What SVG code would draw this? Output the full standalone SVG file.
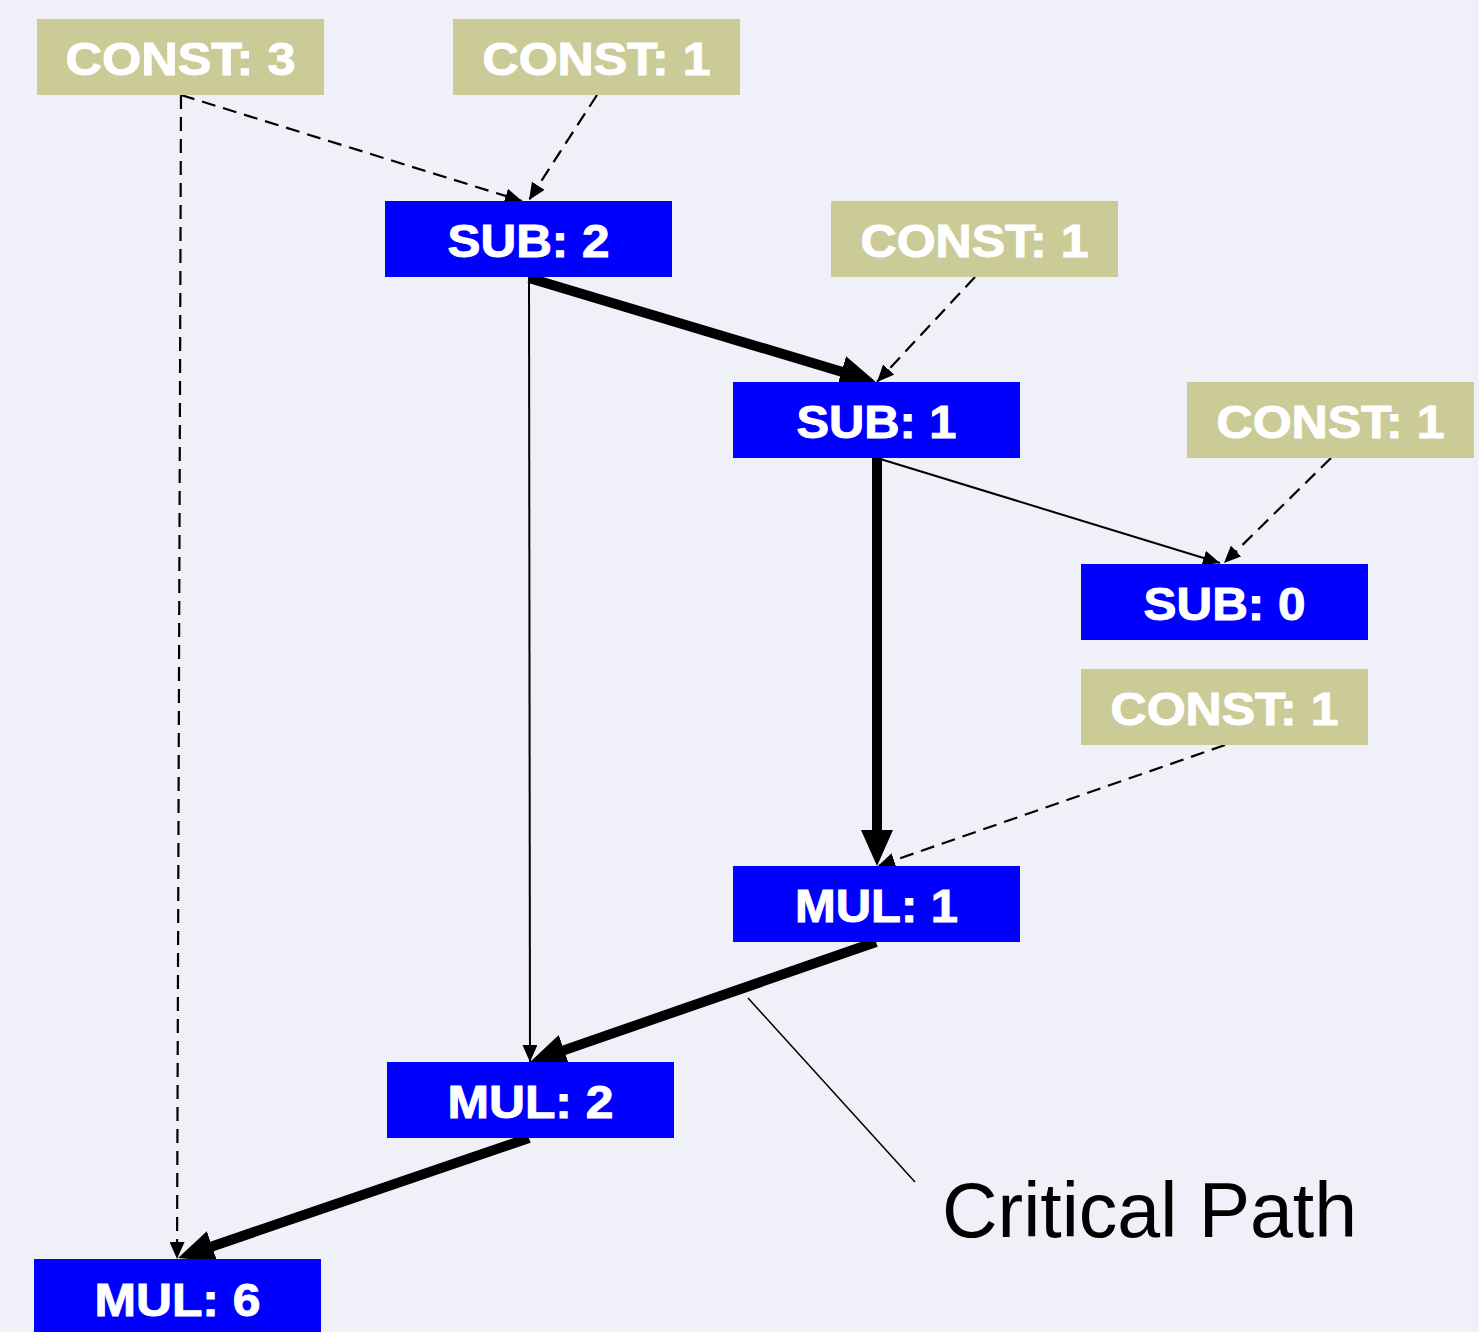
<svg xmlns="http://www.w3.org/2000/svg" width="1479" height="1332" viewBox="0 0 1479 1332">
<style>
.const{fill:#CBCB98}
.op{fill:#0000FF}
.lbl{font-family:"Liberation Sans",Arial,sans-serif;font-weight:bold;font-size:46px;fill:#FFFFFF;stroke:#FFFFFF;stroke-width:1;text-anchor:middle}
.dash{stroke:#000;stroke-width:2.2;stroke-dasharray:14 8;fill:none}
.thin{stroke:#000;stroke-width:2;fill:none}
.thick{stroke:#000;stroke-width:10;fill:none}
.note{font-family:"Liberation Sans",Arial,sans-serif;font-size:77px;fill:#000}
</style>
<defs>
<marker id="ah" markerUnits="userSpaceOnUse" markerWidth="17" markerHeight="15" refX="17" refY="7.5" orient="auto"><path d="M0,0 L17,7.5 L0,15 z" fill="#000"/></marker>
<marker id="ahb" markerUnits="userSpaceOnUse" markerWidth="36" markerHeight="32" refX="21" refY="16" orient="auto"><path d="M0,0 L36,16 L0,32 z" fill="#000"/></marker>
</defs>
<rect width="1479" height="1332" fill="#EFF0F8"/>
<g id="connectors">
<line class="dash" x1="181" y1="95" x2="522" y2="201" marker-end="url(#ah)"/>
<line class="dash" x1="597" y1="95" x2="529" y2="200" marker-end="url(#ah)"/>
<line class="dash" x1="181" y1="95" x2="177" y2="1259" marker-end="url(#ah)"/>
<line class="thin" x1="529" y1="277" x2="530" y2="1062" marker-end="url(#ah)"/>
<line class="dash" x1="975" y1="277" x2="877" y2="382" marker-end="url(#ah)"/>
<line class="thin" x1="877" y1="458" x2="1220" y2="563" marker-end="url(#ah)"/>
<line class="dash" x1="1331" y1="458" x2="1224" y2="563" marker-end="url(#ah)"/>
<line class="dash" x1="1225" y1="745" x2="878" y2="866" marker-end="url(#ah)"/>
<line class="thick" x1="529" y1="278" x2="861.6" y2="377.7" marker-end="url(#ahb)"/>
<line class="thick" x1="877" y1="458" x2="877" y2="851" marker-end="url(#ahb)"/>
<line class="thick" x1="876" y1="942" x2="544.2" y2="1057.1" marker-end="url(#ahb)"/>
<line class="thick" x1="529" y1="1138" x2="192.2" y2="1253.2" marker-end="url(#ahb)"/>
<line x1="748" y1="998" x2="915" y2="1182" stroke="#000" stroke-width="1.5"/>
</g>
<g id="const3"><rect class="const" x="37" y="19" width="287" height="76"/><text class="lbl" x="180.5" y="75" textLength="230" lengthAdjust="spacingAndGlyphs">CONST: 3</text></g>
<g id="const1a"><rect class="const" x="453" y="19" width="287" height="76"/><text class="lbl" x="596.5" y="75" textLength="228" lengthAdjust="spacingAndGlyphs">CONST: 1</text></g>
<g id="sub2"><rect class="op" x="385" y="201" width="287" height="76"/><text class="lbl" x="528.5" y="257" textLength="162" lengthAdjust="spacingAndGlyphs">SUB: 2</text></g>
<g id="const1b"><rect class="const" x="831" y="201" width="287" height="76"/><text class="lbl" x="974.5" y="257" textLength="228" lengthAdjust="spacingAndGlyphs">CONST: 1</text></g>
<g id="sub1"><rect class="op" x="733" y="382" width="287" height="76"/><text class="lbl" x="876.5" y="438" textLength="160" lengthAdjust="spacingAndGlyphs">SUB: 1</text></g>
<g id="const1c"><rect class="const" x="1187" y="382" width="287" height="76"/><text class="lbl" x="1330.5" y="438" textLength="228" lengthAdjust="spacingAndGlyphs">CONST: 1</text></g>
<g id="sub0"><rect class="op" x="1081" y="564" width="287" height="76"/><text class="lbl" x="1224.5" y="620" textLength="162" lengthAdjust="spacingAndGlyphs">SUB: 0</text></g>
<g id="const1d"><rect class="const" x="1081" y="669" width="287" height="76"/><text class="lbl" x="1224.5" y="725" textLength="228" lengthAdjust="spacingAndGlyphs">CONST: 1</text></g>
<g id="mul1"><rect class="op" x="733" y="866" width="287" height="76"/><text class="lbl" x="876.5" y="922" textLength="163" lengthAdjust="spacingAndGlyphs">MUL: 1</text></g>
<g id="mul2"><rect class="op" x="387" y="1062" width="287" height="76"/><text class="lbl" x="530.5" y="1118" textLength="166" lengthAdjust="spacingAndGlyphs">MUL: 2</text></g>
<g id="mul6"><rect class="op" x="34" y="1259" width="287" height="76"/><text class="lbl" x="177.5" y="1316" textLength="166" lengthAdjust="spacingAndGlyphs">MUL: 6</text></g>
<g id="critical-path-label"><text class="note" x="942" y="1237">Critical Path</text></g>
</svg>
